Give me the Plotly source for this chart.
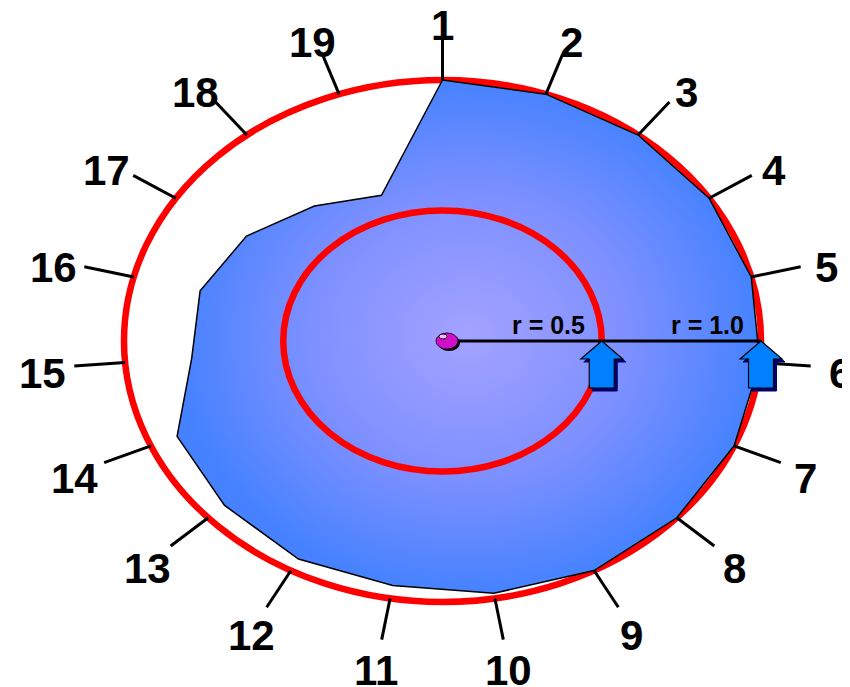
import numpy as np
import plotly.graph_objects as go

# ---------------- data ----------------
spoke_labels = ["1", "2", "3", "4", "5", "6", "7", "8", "9", "10",
                "11", "12", "13", "14", "15", "16", "17", "18", "19"]
radii = [1.0, 1.0, 1.0, 1.0, 1.0, 1.0, 1.0, 1.0, 1.0, 0.98,
         0.95, 0.95, 0.93, 0.91, 0.79, 0.785, 0.735, 0.655, 0.59]
ring_radii = [0.5, 1.0]
ring_labels = ["r = 0.5", "r = 1.0"]

# ---------------- geometry / layout constants ----------------
W, H = 850, 687
CX, CY = 434.5, 333.0      # pixel position of centre inside the figure
RX, RY = 318.5, 261.0      # pixels per unit radius
TICK_IN, TICK_OUT = 1.0, 1.16
LABEL_FONT = "Liberation Sans, Arial, sans-serif"

n = len(spoke_labels)
theta = np.deg2rad(90 - np.arange(n) * 360.0 / n)
cos_t, sin_t = np.cos(theta), np.sin(theta)

def px_dx(p):
    return p / RX

def px_dy(p):
    return p / RY

fig = go.Figure()

# radar polygon
r = np.array(radii)
px = list(r * cos_t) + [r[0] * cos_t[0]]
py = list(r * sin_t) + [r[0] * sin_t[0]]
fig.add_trace(go.Scatter(
    x=px, y=py, mode="lines", fill="toself",
    fillgradient=dict(type="radial",
                      colorscale=[[0, "#a4a2ff"], [0.55, "#7d90ff"], [1, "#4682ff"]]),
    line=dict(color="black", width=1.5),
    hoverinfo="skip", showlegend=False))

# spoke ticks
tx, ty = [], []
for c, s in zip(cos_t, sin_t):
    tx += [TICK_IN * c, TICK_OUT * c, None]
    ty += [TICK_IN * s, TICK_OUT * s, None]
fig.add_trace(go.Scatter(x=tx, y=ty, mode="lines",
                         line=dict(color="black", width=3),
                         hoverinfo="skip", showlegend=False))

shapes = []
# outer ring (below polygon)
shapes.append(dict(type="circle", xref="x", yref="y", layer="below",
                   x0=-ring_radii[1], x1=ring_radii[1], y0=-ring_radii[1], y1=ring_radii[1],
                   line=dict(color="#ff0000", width=6.5)))
# inner ring (above polygon)
shapes.append(dict(type="circle", xref="x", yref="y", layer="above",
                   x0=-ring_radii[0], x1=ring_radii[0], y0=-ring_radii[0], y1=ring_radii[0],
                   line=dict(color="#ff0000", width=6.5)))

# radius line
dot_x = px_dx(4.5)
shapes.append(dict(type="line", xref="x", yref="y", layer="above",
                   x0=dot_x, x1=ring_radii[1], y0=0, y1=0,
                   line=dict(color="black", width=3)))

# arrows
def arrow_path(x_tip, ox=0.0, oy=0.0):
    pts = [(0, 0), (21, 18), (12.5, 18), (12.5, 47), (-12.5, 47), (-12.5, 18), (-21, 18)]
    s = ""
    for i, (dx, dy) in enumerate(pts):
        xx = x_tip + px_dx(dx + ox)
        yy = -px_dy(dy + oy)
        s += ("M" if i == 0 else "L") + f"{xx:.5f},{yy:.5f} "
    return s + "Z"

for rr in ring_radii:
    shapes.append(dict(type="path", xref="x", yref="y", layer="above",
                       path=arrow_path(rr, 3, 3), fillcolor="#000070",
                       line=dict(color="#000070", width=1)))
    shapes.append(dict(type="path", xref="x", yref="y", layer="above",
                       path=arrow_path(rr), fillcolor="#0080ff",
                       line=dict(color="black", width=1.2)))

# centre dot
shapes.append(dict(type="circle", xref="x", yref="y", layer="above",
                   x0=dot_x - px_dx(9), x1=dot_x + px_dx(13),
                   y0=-px_dy(10), y1=px_dy(6),
                   fillcolor="black", line=dict(width=0)))
shapes.append(dict(type="circle", xref="x", yref="y", layer="above",
                   x0=dot_x - px_dx(11), x1=dot_x + px_dx(11),
                   y0=-px_dy(8), y1=px_dy(8),
                   fillcolor="#d010c8", line=dict(color="#300030", width=1)))
shapes.append(dict(type="circle", xref="x", yref="y", layer="above",
                   x0=dot_x - px_dx(8), x1=dot_x + px_dx(0),
                   y0=px_dy(2), y1=px_dy(7),
                   fillcolor="#f0c0f0", line=dict(color="#300030", width=1)))

annotations = []
# spoke labels
for lab, c, s in zip(spoke_labels, cos_t, sin_t):
    off_y = 18 if s > 0 else 26
    off_x = 27 + 5 * (len(lab) - 1) + (3 if c > 0.99 else 0)
    annotations.append(dict(
        x=TICK_OUT * c, y=TICK_OUT * s, xref="x", yref="y",
        text=f"<b>{lab}</b>", showarrow=False,
        xshift=off_x * c, yshift=off_y * s - 5,
        font=dict(family=LABEL_FONT, size=42, color="black"),
        xanchor="center", yanchor="middle"))

# ring labels
for rr, lab in zip(ring_radii, ring_labels):
    annotations.append(dict(
        x=rr, y=0, xref="x", yref="y", text=f"<b>{lab}</b>", showarrow=False,
        xanchor="right", yanchor="bottom", xshift=-15, yshift=0,
        font=dict(family=LABEL_FONT, size=25, color="black")))

fig.update_layout(
    width=W, height=H,
    margin=dict(l=0, r=0, t=0, b=0),
    paper_bgcolor="white", plot_bgcolor="white",
    xaxis=dict(range=[-CX / RX, (W - CX) / RX], visible=False, fixedrange=True),
    yaxis=dict(range=[-(H - CY) / RY, CY / RY], visible=False, fixedrange=True),
    shapes=shapes, annotations=annotations, showlegend=False)

fig.write_html("out.html")
